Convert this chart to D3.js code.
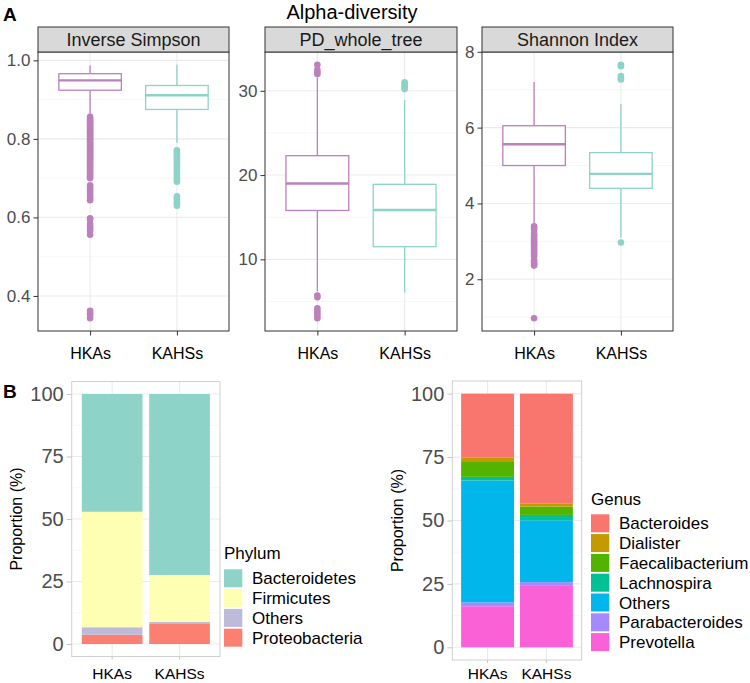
<!DOCTYPE html>
<html><head><meta charset="utf-8">
<script src="https://cdn.jsdelivr.net/npm/d3@7"></script>
<style>
body{margin:0;background:#fff}
svg{display:block}
text{font-family:"Liberation Sans",Arial,Helvetica,sans-serif}
</style>
</head><body>
<svg id="c" width="750" height="683"></svg>
<script>
// ---------------- DATA ----------------
const groups = ["HKAs", "KAHSs"];
const metrics = ["Inverse Simpson", "PD_whole_tree", "Shannon Index"];
// box stats: [lower whisker, Q1, median, Q3, upper whisker]
const boxHKAs = [
  [0.860, 0.924, 0.949, 0.966, 0.987],
  [6.2, 15.8, 19.0, 22.3, 31.6],
  [3.45, 5.00, 5.56, 6.05, 7.20]
];
const boxKAHSs = [
  [0.790, 0.875, 0.911, 0.936, 0.989],
  [6.05, 11.5, 15.85, 18.9, 28.9],
  [3.10, 4.40, 4.78, 5.34, 6.62]
];
const outHKAs = [
  [0.856,0.852,0.848,0.845,0.842,0.838,0.835,0.831,0.828,0.824,0.820,0.817,0.813,0.810,0.806,0.802,0.799,0.795,0.791,0.787,0.784,0.780,0.776,0.772,0.768,0.765,0.761,0.757,0.753,0.749,0.745,0.741,0.737,0.733,0.728,0.724,0.719,0.715,0.710,0.705,0.700,
   0.682,0.676,0.671,0.666,0.660,0.655,0.649,0.644,0.598,0.594,0.583,0.577,0.571,0.566,0.556,0.362,0.356,0.351,0.343],
  [33.1,32.5,32.2,32.0,5.7,5.5,4.2,3.9,3.6,3.3,3.0],
  [3.40,3.35,3.30,3.20,3.15,3.10,3.05,3.00,2.95,2.90,2.85,2.80,2.75,2.70,2.65,2.60,2.50,2.45,2.40,2.36,0.97]
];
const outKAHSs = [
  [0.771,0.766,0.761,0.756,0.751,0.745,0.740,0.734,0.728,0.722,0.716,0.710,0.704,0.697,0.691,0.654,0.648,0.642,0.636,0.630],
  [31.0,30.8,30.6,30.4,30.2],
  [2.97,7.27,7.31,7.36,7.62,7.66]
];
const yTicksA = [[0.4, 0.6, 0.8, 1.0], [10, 20, 30], [2, 4, 6, 8]];
const yMinorA = [[0.5, 0.7, 0.9], [5, 15, 25], [1, 3, 5, 7]];

const phylum = ["Bacteroidetes", "Firmicutes", "Others", "Proteobacteria"];
const phylumHKAs = [47.1, 46.2, 3.0, 3.7];
const phylumKAHSs = [72.4, 18.8, 0.8, 8.0];

const genus = ["Bacteroides", "Dialister", "Faecalibacterium", "Lachnospira", "Others", "Parabacteroides", "Prevotella"];
const genusHKAs = [25.1, 1.5, 6.2, 1.4, 48.1, 1.5, 16.2];
const genusKAHSs = [43.4, 1.1, 3.3, 2.1, 24.4, 1.2, 24.5];

const yTicksB = [0, 25, 50, 75, 100];
const yMinorB = [12.5, 37.5, 62.5, 87.5];

// ---------------- STYLES ----------------
const groupColors = ["#BC80BD", "#8DD3C7"];
const phylumColors = ["#8DD3C7", "#FFFFB3", "#BEBADA", "#FB8072"];
const genusColors = ["#F8766D", "#C49A00", "#53B400", "#00C094", "#00B6EB", "#A58AFF", "#FB61D7"];

const svg = d3.select("#c");
svg.append("rect").attr("width", 750).attr("height", 683).attr("fill", "#fff");

// ---------------- PANEL A ----------------
const facetX = [[38, 229], [265, 457], [482, 673]];
const pTop = 52, pBot = 331, sTop = 27;

svg.append("text").attr("x", 3).attr("y", 21).attr("font-size", 19).attr("font-weight", "bold").text("A");
svg.append("text").attr("x", 352).attr("y", 19).attr("text-anchor", "middle").attr("font-size", 20).attr("fill", "#000").text("Alpha-diversity");

metrics.forEach((m, i) => {
  const [x0, x1] = facetX[i];
  const x = d3.scalePoint().domain(groups).range([x0, x1]).padding(0.6);
  const all = boxHKAs[i].concat(boxKAHSs[i], outHKAs[i], outKAHSs[i]);
  const lo = d3.min(all), hi = d3.max(all), r = hi - lo;
  const y = d3.scaleLinear().domain([lo - 0.05 * r, hi + 0.05 * r]).range([pBot, pTop]);
  const g = svg.append("g");

  g.selectAll(".mn").data(yMinorA[i]).join("line")
    .attr("x1", x0).attr("x2", x1).attr("y1", d => y(d)).attr("y2", d => y(d))
    .attr("stroke", "#F0F0F0").attr("stroke-width", 0.6);
  g.selectAll(".mj").data(yTicksA[i]).join("line")
    .attr("x1", x0).attr("x2", x1).attr("y1", d => y(d)).attr("y2", d => y(d))
    .attr("stroke", "#EBEBEB").attr("stroke-width", 1.1);
  g.selectAll(".vx").data(groups).join("line")
    .attr("x1", d => x(d)).attr("x2", d => x(d)).attr("y1", pTop).attr("y2", pBot)
    .attr("stroke", "#EBEBEB").attr("stroke-width", 1.1);

  const bw = x.step() * 0.72;
  const boxes = [boxHKAs[i], boxKAHSs[i]];
  const outs = [outHKAs[i], outKAHSs[i]];
  groups.forEach((grp, k) => {
    const b = boxes[k], cx = x(grp), col = groupColors[k];
    g.append("line").attr("x1", cx).attr("x2", cx).attr("y1", y(b[0])).attr("y2", y(b[1]))
      .attr("stroke", col).attr("stroke-width", 1.3);
    g.append("line").attr("x1", cx).attr("x2", cx).attr("y1", y(b[3])).attr("y2", y(b[4]))
      .attr("stroke", col).attr("stroke-width", 1.3);
    g.append("rect").attr("x", cx - bw / 2).attr("width", bw)
      .attr("y", y(b[3])).attr("height", y(b[1]) - y(b[3]))
      .attr("fill", "#fff").attr("stroke", col).attr("stroke-width", 1.3);
    g.append("line").attr("x1", cx - bw / 2).attr("x2", cx + bw / 2).attr("y1", y(b[2])).attr("y2", y(b[2]))
      .attr("stroke", col).attr("stroke-width", 2.4);
    g.selectAll(null).data(outs[k]).join("circle")
      .attr("cx", cx).attr("cy", d => y(d)).attr("r", 3.3).attr("fill", col);
  });

  g.append("rect").attr("x", x0).attr("y", pTop).attr("width", x1 - x0).attr("height", pBot - pTop)
    .attr("fill", "none").attr("stroke", "#333333").attr("stroke-width", 1);
  g.append("rect").attr("x", x0).attr("y", sTop).attr("width", x1 - x0).attr("height", pTop - sTop)
    .attr("fill", "#D9D9D9").attr("stroke", "#333333").attr("stroke-width", 1);
  g.append("text").attr("x", (x0 + x1) / 2).attr("y", (sTop + pTop) / 2).attr("dy", "0.36em")
    .attr("text-anchor", "middle").attr("font-size", 18).attr("fill", "#1A1A1A").text(m);

  const fmt = i === 0 ? d3.format(".1f") : d3.format("d");
  const ya = g.append("g").attr("transform", `translate(${x0},0)`)
    .call(d3.axisLeft(y).tickValues(yTicksA[i]).tickFormat(fmt).tickSize(4.5).tickPadding(3));
  ya.select(".domain").remove();
  ya.selectAll("line").attr("stroke", "#333333");
  ya.selectAll("text").attr("font-size", 17).attr("fill", "#4D4D4D").attr("font-family", null);

  const xa = g.append("g").attr("transform", `translate(0,${pBot})`)
    .call(d3.axisBottom(x).tickSize(4.5).tickPadding(12));
  xa.select(".domain").remove();
  xa.selectAll("line").attr("stroke", "#333333");
  xa.selectAll("text").attr("font-size", 16).attr("fill", "#000").attr("font-family", null);
});

// ---------------- PANEL B ----------------
svg.append("text").attr("x", 3).attr("y", 398).attr("font-size", 19).attr("font-weight", "bold").text("B");

function stackedPanel(cfg) {
  const { left, right, top, bottom, keys, hk, ka, colors, title, legX, legTitleY, legKeyY, labX } = cfg;
  const g = svg.append("g");
  const x = d3.scaleBand().domain(groups).range([left, right]).paddingInner(0.1).paddingOuter(0.15);
  const y = d3.scaleLinear().domain([-5, 105]).range([bottom, top]);

  g.selectAll(".mn").data(yMinorB).join("line")
    .attr("x1", left).attr("x2", right).attr("y1", d => y(d)).attr("y2", d => y(d))
    .attr("stroke", "#F2F2F2").attr("stroke-width", 0.6);
  g.selectAll(".mj").data(yTicksB).join("line")
    .attr("x1", left).attr("x2", right).attr("y1", d => y(d)).attr("y2", d => y(d))
    .attr("stroke", "#EBEBEB").attr("stroke-width", 1.1);
  g.selectAll(".vx").data(groups).join("line")
    .attr("x1", d => x(d) + x.bandwidth() / 2).attr("x2", d => x(d) + x.bandwidth() / 2)
    .attr("y1", top).attr("y2", bottom).attr("stroke", "#EBEBEB").attr("stroke-width", 1.1);

  const rows = groups.map((grp, k) => {
    const vals = k === 0 ? hk : ka;
    const o = { group: grp };
    keys.forEach((key, j) => o[key] = vals[j]);
    return o;
  });
  const order = keys.slice().reverse();
  const series = d3.stack().keys(order)(rows);
  series.forEach(s => {
    const col = colors[keys.indexOf(s.key)];
    g.selectAll(null).data(s).join("rect")
      .attr("x", d => x(d.data.group)).attr("width", x.bandwidth())
      .attr("y", d => y(d[1])).attr("height", d => y(d[0]) - y(d[1]))
      .attr("fill", col);
  });

  g.append("rect").attr("x", left).attr("y", top).attr("width", right - left).attr("height", bottom - top)
    .attr("fill", "none").attr("stroke", "#D0D0D0").attr("stroke-width", 1);

  const ya = g.append("g").attr("transform", `translate(${left},0)`)
    .call(d3.axisLeft(y).tickValues(yTicksB).tickFormat(d3.format("d")).tickSize(5).tickPadding(3));
  ya.select(".domain").remove();
  ya.selectAll("line").attr("stroke", "#C8C8C8");
  ya.selectAll("text").attr("font-size", 20).attr("fill", "#4D4D4D").attr("font-family", null);

  const tk = 3;
  const xa = g.append("g").attr("transform", `translate(0,${bottom})`)
    .call(d3.axisBottom(x).tickSize(tk).tickPadding(668 - bottom - tk));
  xa.select(".domain").remove();
  xa.selectAll("line").attr("stroke", "#C8C8C8");
  xa.selectAll("text").attr("font-size", 15.5).attr("fill", "#000").attr("font-family", null);

  const cy = (y(0) + y(100)) / 2;
  g.append("text").attr("transform", `translate(${labX},${cy}) rotate(-90)`)
    .attr("text-anchor", "middle").attr("font-size", 16).attr("fill", "#000").text("Proportion (%)");

  g.append("text").attr("x", legX).attr("y", legTitleY).attr("font-size", 17).attr("fill", "#000").text(title);
  const step = 19.8;
  keys.forEach((key, j) => {
    const ky = legKeyY + j * step;
    g.append("rect").attr("x", legX).attr("y", ky).attr("width", 18.3).attr("height", 18)
      .attr("fill", colors[j]);
    g.append("text").attr("x", legX + 28).attr("y", ky + 9).attr("dy", "0.36em")
      .attr("font-size", 17).attr("fill", "#000").text(key);
  });
}

stackedPanel({
  left: 71.7, right: 220, top: 381.5, bottom: 656.5,
  keys: phylum, hk: phylumHKAs, ka: phylumKAHSs, colors: phylumColors,
  title: "Phylum", legX: 224, legTitleY: 558.5, legKeyY: 569.3, labX: 21.5
});
stackedPanel({
  left: 452.3, right: 581.7, top: 381, bottom: 660,
  keys: genus, hk: genusHKAs, ka: genusKAHSs, colors: genusColors,
  title: "Genus", legX: 591, legTitleY: 504.5, legKeyY: 514.3, labX: 402.7
});
</script>
</body></html>
